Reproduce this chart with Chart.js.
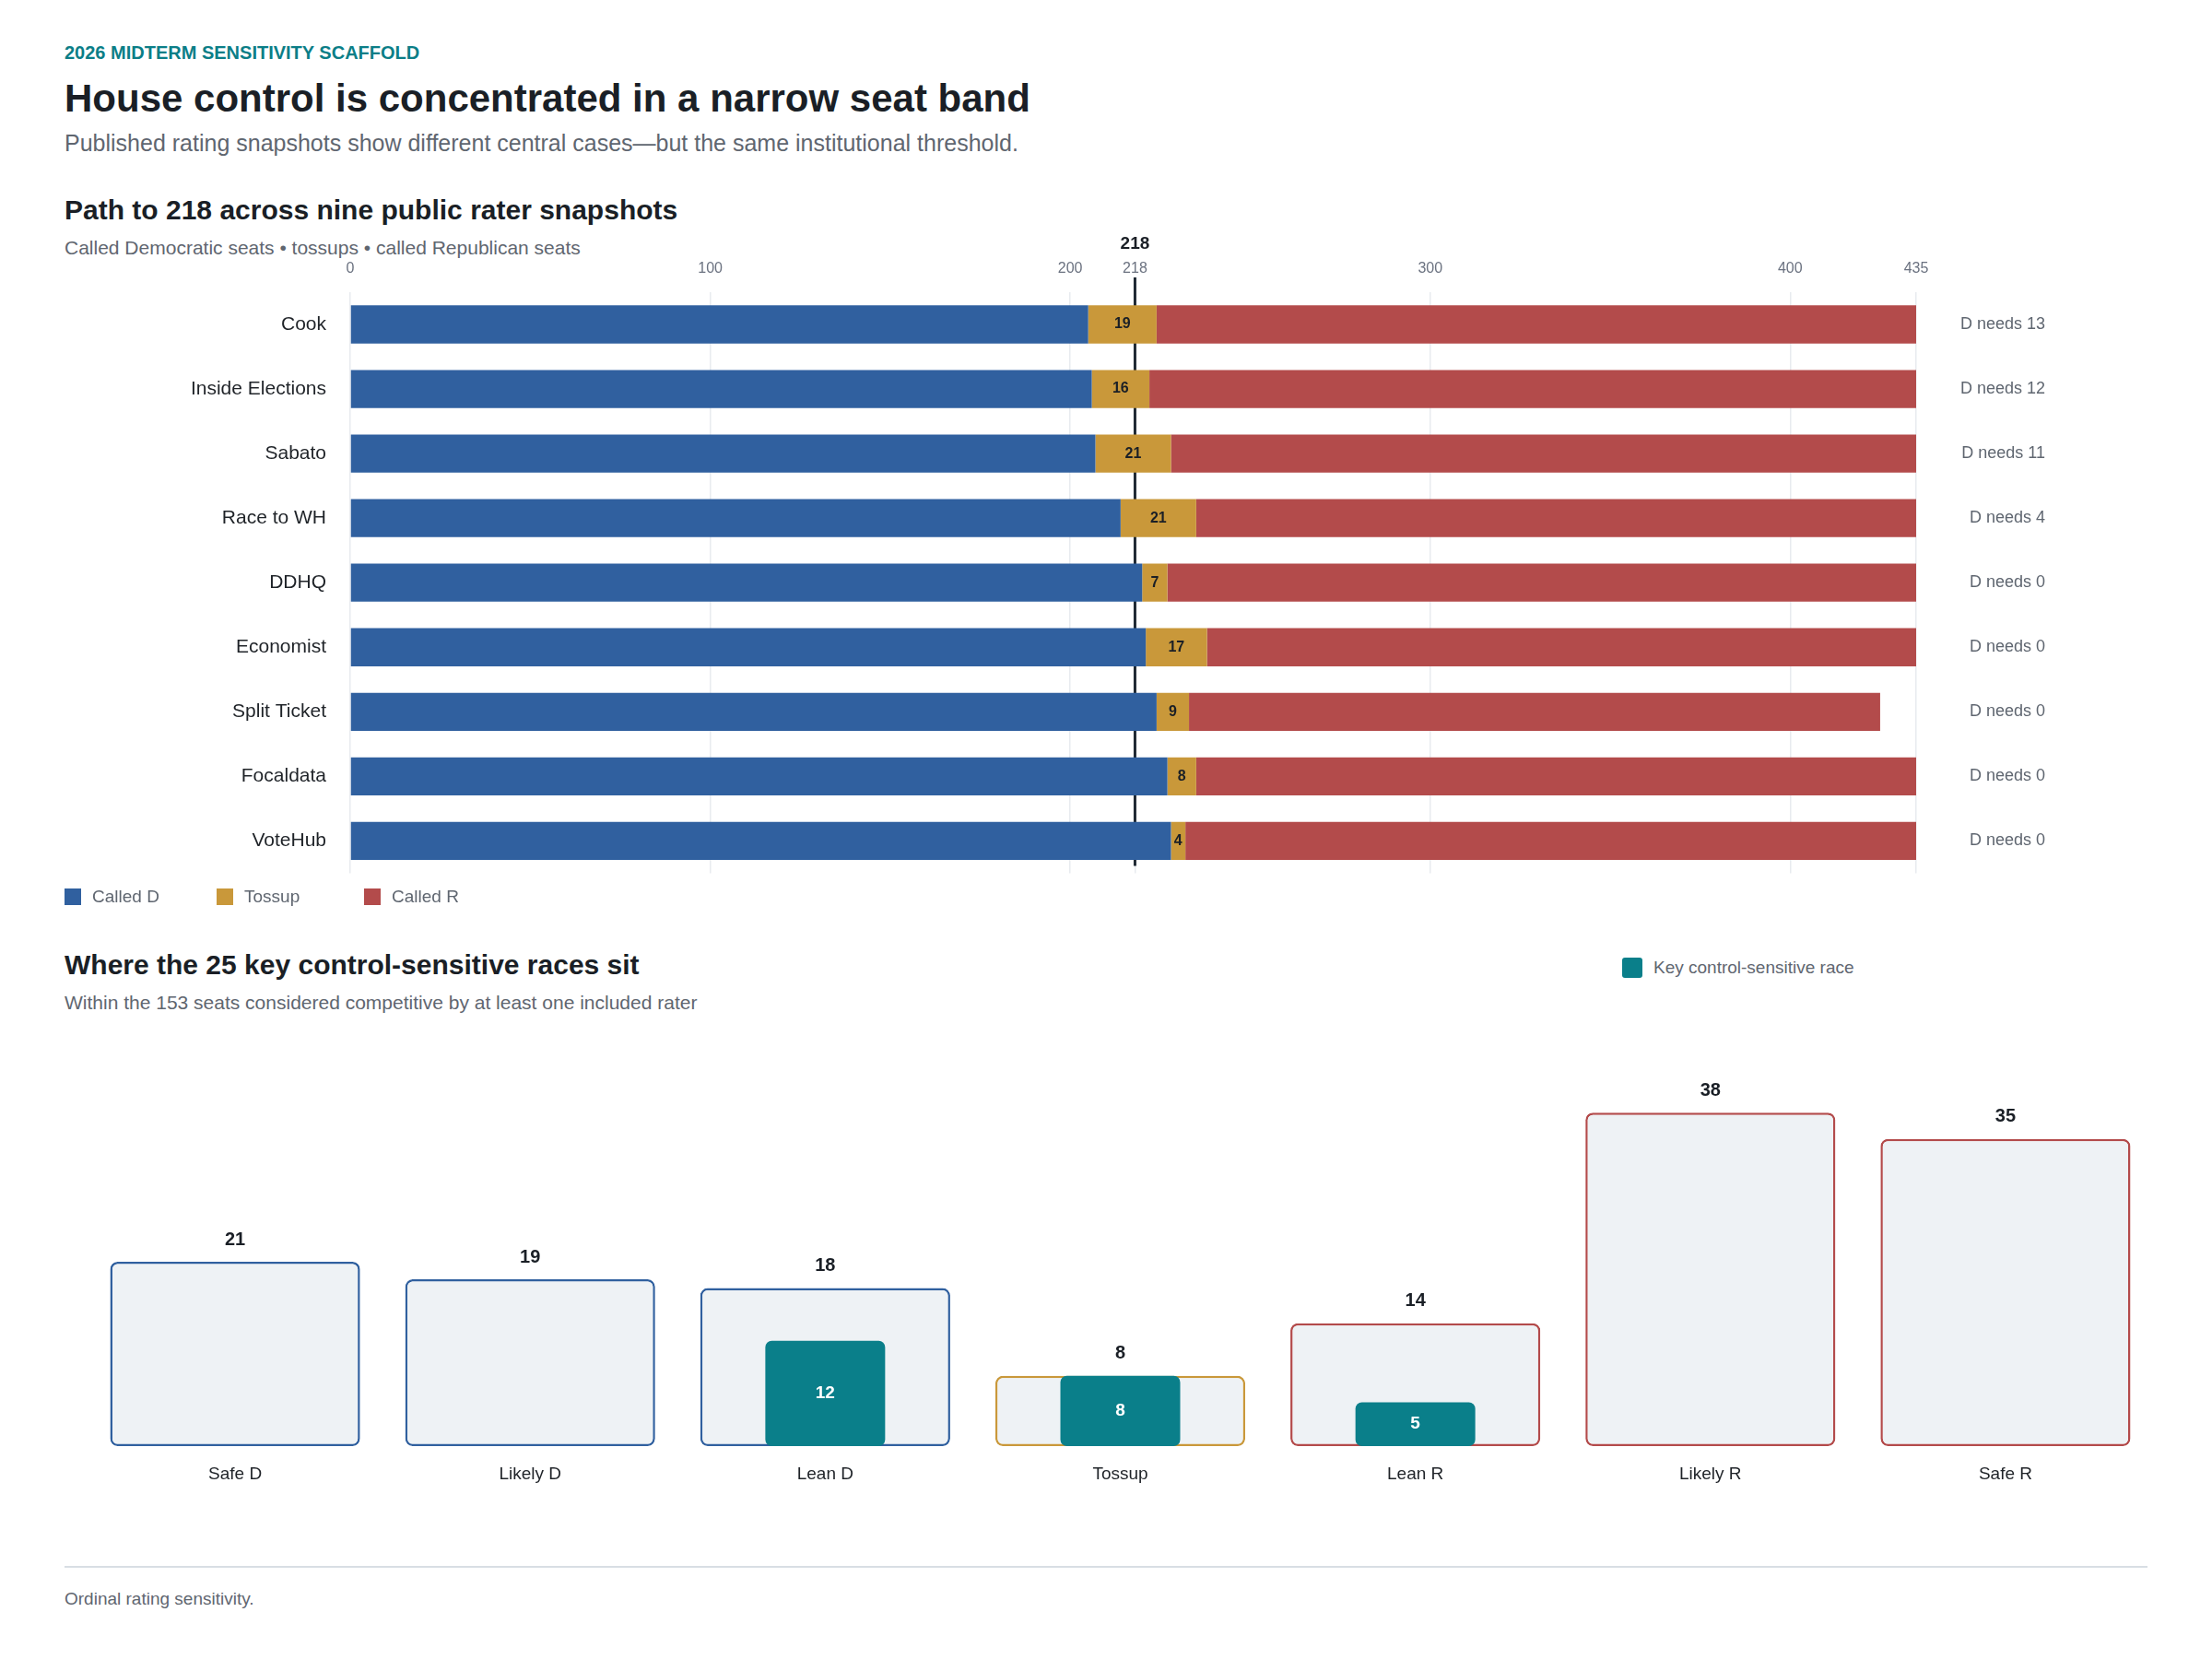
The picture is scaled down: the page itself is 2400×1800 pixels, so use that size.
<!DOCTYPE html>
<html>
<head>
<meta charset="utf-8">
<script src="https://cdn.jsdelivr.net/npm/chart.js@4.4.1/dist/chart.umd.min.js"></script>
<style>
  body { margin: 0; background: #fff; font-family: "Liberation Sans", Arial, sans-serif; }
  #page { position: relative; width: 2400px; height: 1800px; overflow: hidden; }
  .txt { position: absolute; left: 70px; white-space: nowrap; line-height: 1; }
  .eyebrow { top: 47px; font-size: 20px; font-weight: bold; color: #0b7e87; }
  .title { top: 86px; font-size: 42px; font-weight: bold; color: #1a1f26; }
  .sub { top: 143px; font-size: 25px; color: #5f6670; }
  .h2 { font-size: 30px; font-weight: bold; color: #1a1f26; }
  .h2sub { font-size: 21px; color: #5f6670; }
  .legend { position: absolute; display: flex; align-items: center; font-size: 19px; color: #5f6670; }
  .legend .sw { width: 18px; height: 18px; margin-right: 12px; }
  .legend .item { display: flex; align-items: center; }
  canvas { position: absolute; left: 0; }
  .rule { position: absolute; left: 70px; width: 2260px; top: 1699px; height: 2px; background: #d8dee4; }
</style>
</head>
<body>
<div id="page">
  <div class="txt eyebrow">2026 MIDTERM SENSITIVITY SCAFFOLD</div>
  <div class="txt title">House control is concentrated in a narrow seat band</div>
  <div class="txt sub">Published rating snapshots show different central cases—but the same institutional threshold.</div>

  <div class="txt h2" style="top:213px">Path to 218 across nine public rater snapshots</div>
  <div class="txt h2sub" style="top:258px">Called Democratic seats • tossups • called Republican seats</div>

  <canvas id="pathChart" width="2400" height="738" style="top:240px"></canvas>

  <div class="legend" style="left:70px;top:962px">
    <div class="item" style="width:165px"><span class="sw" style="background:#30609f"></span>Called D</div>
    <div class="item" style="width:160px"><span class="sw" style="background:#c9983a"></span>Tossup</div>
    <div class="item"><span class="sw" style="background:#b34b4b"></span>Called R</div>
  </div>

  <div class="txt h2" style="top:1032px">Where the 25 key control-sensitive races sit</div>
  <div class="txt h2sub" style="top:1077px">Within the 153 seats considered competitive by at least one included rater</div>

  <div class="legend" style="left:1760px;top:1039px">
    <div class="item"><span class="sw" style="background:#0a7f8a;width:22px;height:22px;border-radius:3px"></span>Key control-sensitive race</div>
  </div>

  <canvas id="raceChart" width="2400" height="530" style="top:1110px"></canvas>

  <div class="rule"></div>
  <div class="txt h2sub" style="top:1725px;font-size:19px">Ordinal rating sensitivity.</div>
</div>

<script>
// rater snapshots (seats)
const raters = ["Cook", "Inside Elections", "Sabato", "Race to WH", "DDHQ", "Economist", "Split Ticket", "Focaldata", "VoteHub"]
const calledD = [205, 206, 207, 214, 220, 221, 224, 227, 228]
const tossups = [19, 16, 21, 21, 7, 17, 9, 8, 4]
const calledR = [211, 213, 207, 200, 208, 197, 192, 200, 203]
const majority = 218
const seatTicks = [0, 100, 200, 218, 300, 400, 435]

// competitive seat distribution
const ratings = ["Safe D", "Likely D", "Lean D", "Tossup", "Lean R", "Likely R", "Safe R"]
const competitiveSeats = [21, 19, 18, 8, 14, 38, 35]
const keyRaces = [0, 0, 12, 8, 5, 0, 0]

const BLUE = "#30609f", GOLD = "#c9983a", RED = "#b34b4b", TEAL = "#0a7f8a"
const FONT = "'Liberation Sans', Arial, sans-serif"
Chart.defaults.font.family = FONT
Chart.defaults.devicePixelRatio = 1

const pathPlugin = {
    id: "pathExtras",
    beforeDatasetsDraw(chart) {
        const { ctx, chartArea, scales } = chart
        const x = scales.x.getPixelForValue(majority)
        ctx.save()
        ctx.strokeStyle = "#1f2933"
        ctx.lineWidth = 3
        ctx.beginPath()
        ctx.moveTo(x, chartArea.top - 16)
        ctx.lineTo(x, chartArea.bottom - 8)
        ctx.stroke()
        ctx.restore()
    },
    afterDatasetsDraw(chart) {
        const { ctx, scales } = chart
        const x = scales.x.getPixelForValue(majority)
        ctx.save()
        ctx.fillStyle = "#1a1f26"
        ctx.font = "bold 19px " + FONT
        ctx.textAlign = "center"
        ctx.textBaseline = "middle"
        ctx.fillText(String(majority), x, 25)

        const meta = chart.getDatasetMeta(1)
        meta.data.forEach((bar, i) => {
            ctx.font = "bold 16px " + FONT
            ctx.fillStyle = "#1a1f26"
            ctx.textAlign = "center"
            ctx.fillText(String(tossups[i]), bar.getCenterPoint().x, bar.y)

            const need = Math.max(0, majority - calledD[i])
            ctx.font = "18px " + FONT
            ctx.fillStyle = "#5f6670"
            ctx.textAlign = "right"
            ctx.fillText("D needs " + need, 2219, bar.y)
        })
        ctx.restore()
    }
}

new Chart("pathChart", {
    type: "bar",
    data: {
        labels: raters,
        datasets: [
            { label: "Called D", data: calledD, backgroundColor: BLUE },
            { label: "Tossup", data: tossups, backgroundColor: GOLD },
            { label: "Called R", data: calledR, backgroundColor: RED },
        ]
    },
    options: {
        indexAxis: "y",
        responsive: false,
        animation: false,
        layout: { padding: { left: 0, right: 321, top: 0, bottom: 14 } },
        datasets: { bar: { barPercentage: 0.59, categoryPercentage: 1, borderWidth: 0 } },
        plugins: { legend: { display: false }, tooltip: { enabled: false } },
        scales: {
            x: {
                position: "top",
                stacked: true,
                min: 0,
                max: 435,
                afterBuildTicks: (axis) => { axis.ticks = seatTicks.map(v => ({ value: v })) },
                afterFit: (axis) => { axis.height = 77 },
                grid: { color: "#e8ebef", lineWidth: 1.5, drawTicks: false },
                border: { display: false },
                ticks: { color: "#6b7280", font: { size: 16 }, padding: 16, autoSkip: false, maxRotation: 0 }
            },
            y: {
                stacked: true,
                afterFit: (axis) => { axis.width = 380 },
                grid: { display: false },
                border: { display: false },
                ticks: { color: "#1f2328", font: { size: 21 }, padding: 18 }
            }
        }
    },
    plugins: [pathPlugin]
})

const raceLabels = {
    id: "raceLabels",
    afterDatasetsDraw(chart) {
        const { ctx } = chart
        ctx.save()
        ctx.textAlign = "center"
        ctx.textBaseline = "middle"
        chart.getDatasetMeta(1).data.forEach((bar, i) => {
            ctx.font = "bold 20px " + FONT
            ctx.fillStyle = "#1a1f26"
            ctx.fillText(String(competitiveSeats[i]), bar.x, bar.y - 24)
        })
        chart.getDatasetMeta(0).data.forEach((bar, i) => {
            if (!keyRaces[i]) return
            ctx.font = "bold 19px " + FONT
            ctx.fillStyle = "#ffffff"
            ctx.fillText(String(keyRaces[i]), bar.x, (bar.y + bar.base) / 2)
        })
        ctx.restore()
    }
}

const ratingColor = (name) => name.endsWith("D") ? BLUE : name.endsWith("R") ? RED : GOLD

new Chart("raceChart", {
    type: "bar",
    data: {
        labels: ratings,
        datasets: [
            {
                label: "Key control-sensitive race",
                data: keyRaces,
                backgroundColor: TEAL,
                barPercentage: 0.406,
                categoryPercentage: 1,
                borderRadius: 7,
                borderSkipped: false,
                grouped: false,
                order: 0
            },
            {
                label: "Competitive seats",
                data: competitiveSeats,
                backgroundColor: "#eef2f5",
                borderColor: ratings.map(ratingColor),
                borderWidth: 2.5,
                borderRadius: 8,
                borderSkipped: false,
                barPercentage: 0.847,
                categoryPercentage: 1,
                grouped: false,
                order: 1
            }
        ]
    },
    options: {
        responsive: false,
        animation: false,
        layout: { padding: { left: 95, right: 64, top: 40, bottom: 0 } },
        plugins: { legend: { display: false }, tooltip: { enabled: false } },
        scales: {
            x: {
                afterFit: (axis) => { axis.height = 71 },
                grid: { display: false, drawTicks: false },
                border: { display: false },
                ticks: { color: "#1f2328", font: { size: 19 }, padding: 19 }
            },
            y: {
                display: false,
                min: 0,
                max: 44
            }
        }
    },
    plugins: [raceLabels]
})
</script>
</body>
</html>
